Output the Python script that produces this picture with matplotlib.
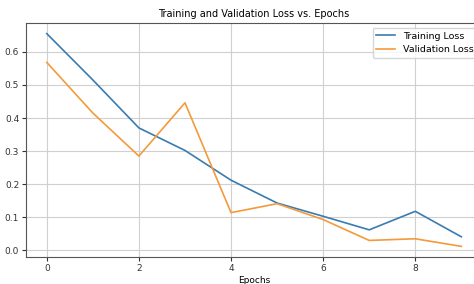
import matplotlib
matplotlib.use("Agg")
import matplotlib.pyplot as plt

epochs = list(range(10))
train_loss = [0.655, 0.515, 0.370, 0.302, 0.212, 0.143, 0.103, 0.062, 0.118, 0.041]
val_loss = [0.568, 0.415, 0.285, 0.446, 0.114, 0.141, 0.093, 0.030, 0.035, 0.012]

plt.rcParams['font.size'] = 6.5

fig = plt.figure(figsize=(4.74, 2.84), dpi=100)
ax = fig.add_axes([0.055, 0.095, 0.962, 0.824])
ax.plot(epochs, train_loss, color='#3a7bb0', linewidth=1.2, label='Training Loss')
ax.plot(epochs, val_loss, color='#f39a3c', linewidth=1.2, label='Validation Loss')
ax.set_title("Training and Validation Loss vs. Epochs", fontsize=7, pad=4)
ax.set_xlabel("Epochs", fontsize=6.5, labelpad=2)
ax.set_xticks([0, 2, 4, 6, 8])
ax.set_yticks([0.0, 0.1, 0.2, 0.3, 0.4, 0.5, 0.6])
ax.tick_params(labelsize=6.5, length=3, pad=2, colors='#333333')
for s in ax.spines.values():
    s.set_color('#555555')
ax.grid(True, color='#d0d0d0', linewidth=0.8)
ax.legend(loc='upper right', fontsize=6.8)
fig.savefig("out.png", dpi=100)
